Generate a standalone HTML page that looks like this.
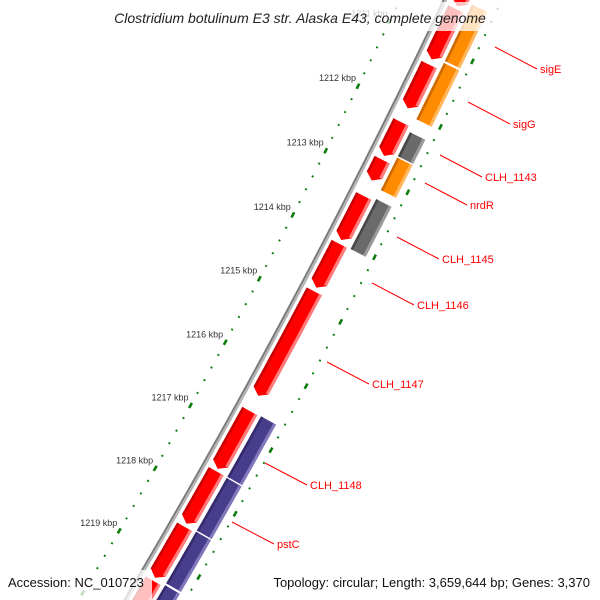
<!DOCTYPE html>
<html><head><meta charset="utf-8"><style>
html,body{margin:0;padding:0;background:#fff;width:600px;height:600px;overflow:hidden;}
svg{display:block;overflow:hidden;font-family:"Liberation Sans","DejaVu Sans",sans-serif;}
</style></head><body>
<svg id="map" width="600" height="600" viewBox="0 0 600 600" xmlns="http://www.w3.org/2000/svg">
<rect width="600" height="600" fill="#fff"/>
<g id="ticks"></g>
<g id="backbone"></g>
<g id="features"></g>
<g id="labels"></g>
<rect x="90" y="2" width="422" height="29" fill="#fff" fill-opacity="0.75"/>
<text x="300" y="23" text-anchor="middle" font-size="14" font-style="italic" fill="#222">Clostridium botulinum E3 str. Alaska E43, complete genome</text>
<rect x="0" y="570" width="152" height="30" fill="#fff" fill-opacity="0.75"/>
<rect x="254" y="570" width="346" height="30" fill="#fff" fill-opacity="0.75"/>
<text x="8" y="587" font-size="13" fill="#111">Accession: NC_010723</text>
<text x="590" y="587" text-anchor="end" font-size="13" fill="#111">Topology: circular; Length: 3,659,644 bp; Genes: 3,370</text>
</svg>
<script>
// data (kbp)
const fwdStarts = [1210.00, 1210.45, 1211.30, 1212.18, 1212.76, 1213.32, 1214.06, 1214.80, 1216.67, 1217.62, 1218.50, 1219.36];
const fwdEnds   = [1210.41, 1211.22, 1211.97, 1212.70, 1213.08, 1214.00, 1214.74, 1216.43, 1217.58, 1218.45, 1219.31, 1220.60];
const revStarts = [1210.30, 1211.19, 1212.25, 1212.64, 1213.28, 1216.66, 1217.63, 1218.48, 1219.33];
const revEnds   = [1211.16, 1212.05, 1212.62, 1213.14, 1214.05, 1217.61, 1218.46, 1219.30, 1220.60];
const revTypes  = ["orange","orange","gray","orange","gray","blue","blue","blue","blue"];
const tickLabels = [1211,1212,1213,1214,1215,1216,1217,1218,1219];
const geneNames = ["sigE","sigG","CLH_1143","nrdR","CLH_1145","CLH_1146","CLH_1147","CLH_1148","pstC"];
const leaderX1 = [495,468,440,425,397,372,327,265,232];
const leaderY1 = [47,102,155,183,237,283,362,463,522];

const NS="http://www.w3.org/2000/svg";
const R=7500, PX=293, PY=300, NX=0.883, NY=0.469;
const CX=PX-R*NX, CY=PY-R*NY;
const th0=Math.atan2(NY,NX);
const PXPERKBP=72.5;
function sOf(k){return (k-1215)*PXPERKBP-3;}
function pt(k,d){const th=th0+sOf(k)/R;const r=R+d;return [CX+r*Math.cos(th),CY+r*Math.sin(th)];}
function arcPts(a,b,d,n){const o=[];for(let i=0;i<=n;i++){o.push(pt(a+(b-a)*i/n,d));}return o;}
function poly(points,fill,parent,name){const p=document.createElementNS(NS,"polygon");
p.setAttribute("points",points.map(q=>q[0].toFixed(1)+","+q[1].toFixed(1)).join(" "));
p.setAttribute("fill",fill);


parent.appendChild(p);return p;}
function band(a,b,d1,d2,fill,parent,name){const o=arcPts(a,b,d1,20);const i=arcPts(a,b,d2,20).reverse();return poly(o.concat(i),fill,parent,name);}

// backbone
const bb=document.getElementById("backbone");
band(1209.5,1221,-2.5,-0.5,"#7a7a7a",bb,"backbone-outer");
band(1209.5,1221,-0.5,1.8,"#b5b5b5",bb,"backbone-inner");

// tick rings
const tg=document.getElementById("ticks");
function ring(d,name){
  for(let k=1209.6;k<=1220.8;k+=0.2){
    const kr=Math.round(k*10)/10;
    const major=Math.abs(kr-Math.round(kr))<0.01;
    if(major){band(kr-0.04,kr+0.04,d-1.3,d+1.3,"#0a7d0a",tg,name+"-major-tick");}
    else{band(kr-0.013,kr+0.013,d-1,d+1,"#0a7d0a",tg,name+"-minor-tick");}
  }
}
ring(-41,"outer-ring");
ring(51,"inner-ring");
tickLabels.forEach(k=>{
  const p=pt(k,-41);
  const t=document.createElementNS(NS,"text");
  t.setAttribute("x",(p[0]-2).toFixed(1));
  t.setAttribute("y",(p[1]-5).toFixed(1));
  t.setAttribute("text-anchor","end");
  t.setAttribute("font-size","9");
  t.setAttribute("fill","#333");
  t.textContent=k+" kbp";
  
  
  tg.appendChild(t);
});

// features
const fg=document.getElementById("features");
const AR=6/PXPERKBP;
for(let i=0;i<fwdStarts.length;i++){
  const a=fwdStarts[i], b=fwdEnds[i], bb2=b-AR;
  const o=arcPts(a,bb2,5,20), inn=arcPts(a,bb2,22,20).reverse();
  const pts=o.concat([pt(b,13.5)]).concat(inn);
  poly(pts,"#ff0000",fg,"forward-gene");
  band(a,bb2,5,7.5,"#c80000",fg,"forward-gene-shade");
  band(a,bb2,19,22,"#ff7a7a",fg,"forward-gene-highlight");
}
const cols={orange:["#ff8c00","#cc6a00","#ffb860"],gray:["#6a6a6a","#474747","#9a9a9a"],blue:["#483d8b","#342a6e","#8078bb"]};
for(let i=0;i<revStarts.length;i++){
  const c=cols[revTypes[i]];
  band(revStarts[i],revEnds[i],26,43,c[0],fg,"reverse-gene-"+revTypes[i]);
  band(revStarts[i],revEnds[i],26,28.5,c[1],fg,"reverse-gene-shade");
  band(revStarts[i],revEnds[i],40,43,c[2],fg,"reverse-gene-highlight");
}

// gene labels
const lg=document.getElementById("labels");
geneNames.forEach((g,i)=>{
  const x1=leaderX1[i], y1=leaderY1[i], x2=x1+42, y2=y1+22;
  const l=document.createElementNS(NS,"line");
  l.setAttribute("x1",x1);l.setAttribute("y1",y1);l.setAttribute("x2",x2);l.setAttribute("y2",y2);
  l.setAttribute("stroke","#ff0000");l.setAttribute("stroke-width","1");
  
  
  lg.appendChild(l);
  const t=document.createElementNS(NS,"text");
  t.setAttribute("x",x2+3);t.setAttribute("y",y2+4);
  t.setAttribute("font-size","11");t.setAttribute("fill","#ff0000");
  t.textContent=g;
  
  
  lg.appendChild(t);
});
</script>
</body></html>
